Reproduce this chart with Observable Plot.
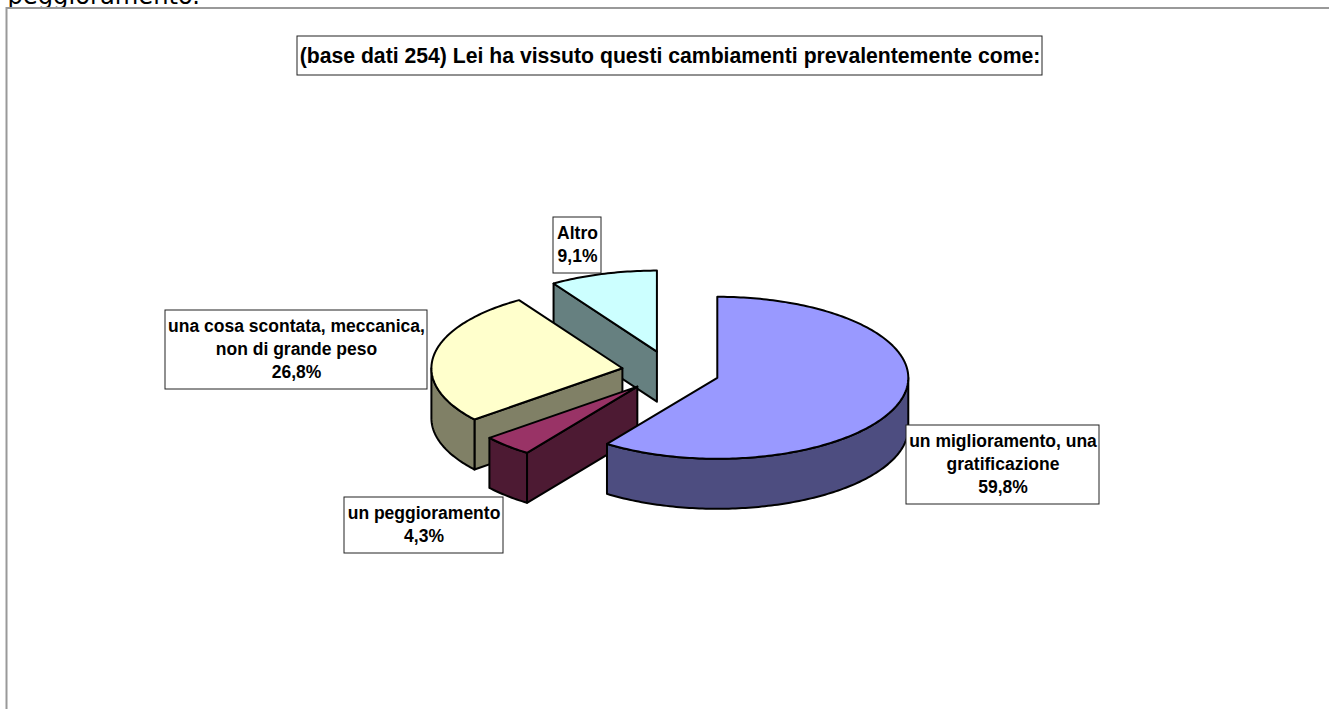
<!DOCTYPE html>
<html><head><meta charset="utf-8">
<script src="https://cdn.jsdelivr.net/npm/d3@7"></script>
<script src="https://cdn.jsdelivr.net/npm/@observablehq/plot@0.6"></script>
<style>html,body{margin:0;padding:0;background:#fff;overflow:hidden}svg{display:block}</style>
</head><body><div id="chart"></div>
<script>
// Data
const names = ["un miglioramento, una\ngratificazione", "un peggioramento", "una cosa scontata, meccanica,\nnon di grande peso", "Altro"];
const values = [59.8, 4.3, 26.8, 9.1];
const titleText = "(base dati 254) Lei ha vissuto questi cambiamenti prevalentemente come:";
const pageText = "peggioramento.";

// Styles
const topColors = ["#9999FF", "#993366", "#FFFFCC", "#CCFFFF"];
const wallColors = ["#4D4D80", "#4D1A33", "#808066", "#668080"];
const drawOrder = [3, 2, 1, 0];

// Layout of the pie and the label boxes
const W = 1329, H = 709;
const pie = {cx: 670.2, cy: 371, rx: 191, ry: 81, depth: 50, explode: 0.256};
const labelBoxes = [
  {x1: 906, x2: 1099, y1: 425, y2: 504},
  {x1: 344, x2: 503, y1: 497, y2: 553},
  {x1: 165, x2: 427, y1: 310, y2: 389},
  {x1: 553, x2: 601, y1: 217, y2: 273}
];
const titleBox = {x1: 297, x2: 1042, y1: 36, y2: 75};
const frame = {x1: 6.5, y1: 8, x2: W + 10, y2: H + 10};
const font = "Liberation Sans";

// Slice geometry, derived from the values
const total = d3.sum(values);
const rad = d => d * Math.PI / 180;
let acc = 0;
const slices = values.map((v, i) => {
  const a0 = acc / total * 360; acc += v;
  const a1 = acc / total * 360;
  const mid = rad((a0 + a1) / 2);
  return {i, a0, a1,
    ax: pie.cx + pie.explode * pie.rx * Math.sin(mid),
    ay: pie.cy - pie.explode * pie.ry * Math.cos(mid)};
});
const rim = (s, a, dz = 0) => ({
  x: s.ax + pie.rx * Math.sin(rad(a)),
  y: s.ay - pie.ry * Math.cos(rad(a)) + dz
});
const arc = (s, a0, a1, dz = 0) => {
  const n = Math.max(1, Math.ceil(Math.abs(a1 - a0)));
  return d3.range(n + 1).map(k => rim(s, a0 + (a1 - a0) * k / n, dz));
};
const apex = (s, dz = 0) => ({x: s.ax, y: s.ay + dz});
const closed = pts => [...pts, pts[0]];

function sliceFaces(s) {
  const faces = [];
  if (s.a0 > 180 && s.a0 < 360) {
    faces.push({fill: wallColors[s.i], pts: closed([apex(s), rim(s, s.a0), rim(s, s.a0, pie.depth), apex(s, pie.depth)])});
  }
  const lo = Math.max(s.a0, 90), hi = Math.min(s.a1, 270);
  if (lo < hi) {
    faces.push({fill: wallColors[s.i], pts: closed([...arc(s, lo, hi), ...arc(s, hi, lo, pie.depth)])});
  }
  faces.push({fill: topColors[s.i], pts: closed([apex(s), ...arc(s, s.a0, s.a1)])});
  return faces;
}

const faceMarks = drawOrder.flatMap(i => sliceFaces(slices[i])).map(f =>
  Plot.line(f.pts, {x: "x", y: "y", fill: f.fill, stroke: "#000", strokeWidth: 2, strokeLinejoin: "round"})
);

const labels = names.map((n, i) => ({
  ...labelBoxes[i],
  text: n + "\n" + values[i].toFixed(1).replace(".", ",") + "%"
}));

const plot = Plot.plot({
  width: W, height: H, margin: 0,
  x: {domain: [0, W], range: [0, W], axis: null},
  y: {domain: [0, H], range: [0, H], axis: null},
  marks: [
    Plot.text([pageText], {x: [7], y: [-4], text: d => d, textAnchor: "start", fontFamily: "DejaVu Sans", fontSize: 24.2, fill: "#000", lineAnchor: "middle"}),
    Plot.rect([frame], {x1: "x1", x2: "x2", y1: "y1", y2: "y2", fill: "#fff", stroke: "#999", strokeWidth: 2, clip: true}),
    ...faceMarks,
    Plot.rect(labels, {x1: "x1", x2: "x2", y1: "y1", y2: "y2", fill: "#fff", stroke: "#222", strokeWidth: 1}),
    Plot.text(labels, {x: d => (d.x1 + d.x2) / 2, y: d => (d.y1 + d.y2) / 2, dy: -2.5, text: "text", fontFamily: font, fontWeight: "bold", fontSize: 17.5, lineHeight: 1.34, fill: "#000", textAnchor: "middle"}),
    Plot.rect([titleBox], {x1: "x1", x2: "x2", y1: "y1", y2: "y2", fill: "#fff", stroke: "#222", strokeWidth: 1}),
    Plot.text([titleText], {x: (titleBox.x1 + titleBox.x2) / 2, y: (titleBox.y1 + titleBox.y2) / 2, text: d => d, fontFamily: font, fontWeight: "bold", fontSize: 21.2, fill: "#000", textAnchor: "middle"})
  ]
});
document.getElementById("chart").append(plot);
</script></body></html>
